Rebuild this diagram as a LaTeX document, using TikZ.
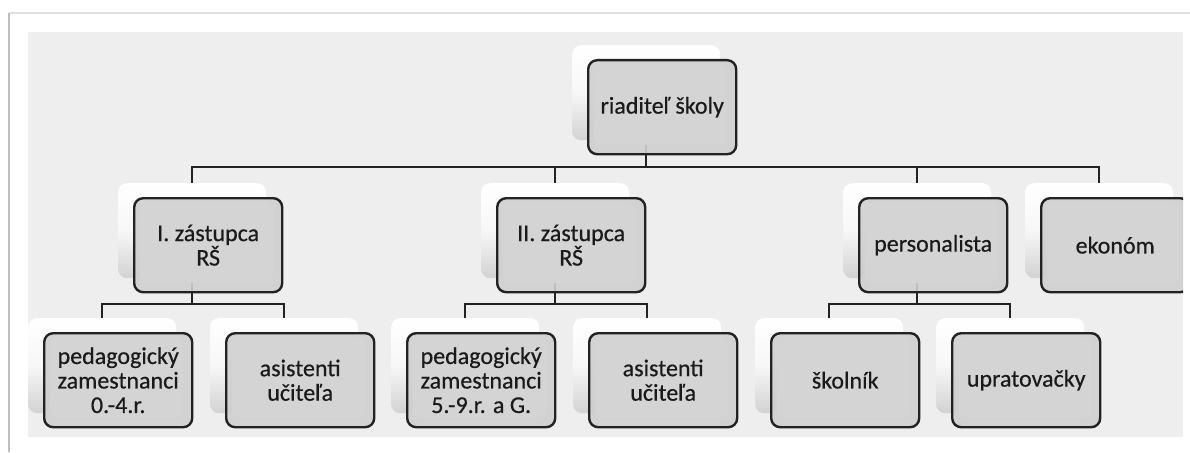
\documentclass[tikz,border=0pt]{standalone}
\usepackage{fontspec}
\setmainfont{Carlito}
\newfontfamily\boxfont[FakeBold=0.5]{Carlito}
\definecolor{panel}{HTML}{EEEEEE}
\definecolor{boxfill}{HTML}{CFCFCF}
\definecolor{hilite}{HTML}{D5D5D5}
\definecolor{boxline}{HTML}{222222}
\definecolor{txt}{HTML}{1A1A1A}
\definecolor{lightbot}{HTML}{D2D2D2}
\definecolor{lightmid}{HTML}{F7F7F7}
\definecolor{frameleft}{HTML}{BDBDBD}
\definecolor{frametop}{HTML}{E0E0E0}
\tikzset{
  lightbox/.style={minimum width=148pt, minimum height=95pt, inner sep=0pt,
    anchor=north west, rounded corners=9pt,
    top color=white, bottom color=lightbot, middle color=lightmid},
  darkbox/.style={minimum width=148pt, minimum height=94pt, inner sep=0pt,
    anchor=north west, rounded corners=9pt, draw=boxline, line width=2.4pt,
    fill=boxfill, fill opacity=0.9, text opacity=1, draw opacity=1,
    align=center, text=txt, font=\boxfont\fontsize{24pt}{24.5pt}\selectfont,
    path picture={\fill[hilite, rounded corners=7pt]
      ([shift={(6pt,-5pt)}]path picture bounding box.north west) rectangle
      ([shift={(-9pt,9pt)}]path picture bounding box.south east);}},
  conn/.style={draw=boxline, line width=2.4pt}
}
\begin{document}
\begin{tikzpicture}[x=1pt,y=-1pt]
\useasboundingbox (0,0) rectangle (1190,452);
\fill[white] (0,0) rectangle (1190,452);
% frame
\draw[frametop, line width=2pt] (9,13) -- (1190,13);
\draw[frameleft, line width=2.5pt] (9,452) -- (9,13);
% panel
\fill[panel] (28,32) rectangle (1183,437);
\begin{scope}
\clip (28,32) rectangle (1183,437);
% light boxes
\node[lightbox] (rootL) at (572,45) {};
\node[lightbox] (izL) at (118,183) {};
\node[lightbox] (iizL) at (481,183) {};
\node[lightbox] (persL) at (843,183) {};
\node[lightbox] (ekonL) at (1025,183) {};
\node[lightbox] (ped1L) at (28,318) {};
\node[lightbox] (asi1L) at (210,318) {};
\node[lightbox] (ped2L) at (391,318) {};
\node[lightbox] (asi2L) at (573,318) {};
\node[lightbox] (skolL) at (755,318) {};
\node[lightbox] (uprL) at (936,318) {};
% bus levels
\coordinate (bus1) at (0,167);
\coordinate (bus2) at (0,304);
% connectors
\draw[conn] (rootL.south) -- (rootL.south |- bus1) -| (izL.north);
\draw[conn] (rootL.south) -- (rootL.south |- bus1) -| (iizL.north);
\draw[conn] (rootL.south) -- (rootL.south |- bus1) -| (persL.north);
\draw[conn] (rootL.south) -- (rootL.south |- bus1) -| (ekonL.north);
\draw[conn] (izL.south) -- (izL.south |- bus2) -| (ped1L.north);
\draw[conn] (izL.south) -- (izL.south |- bus2) -| (asi1L.north);
\draw[conn] (iizL.south) -- (iizL.south |- bus2) -| (ped2L.north);
\draw[conn] (iizL.south) -- (iizL.south |- bus2) -| (asi2L.north);
\draw[conn] (persL.south) -- (persL.south |- bus2) -| (skolL.north);
\draw[conn] (persL.south) -- (persL.south |- bus2) -| (uprL.north);
% dark boxes with text
\node[darkbox] (root) at (587,59) {riaditeľ školy};
\node[darkbox] (iz) at (133,197) {I. zástupca\\RŠ};
\node[darkbox] (iiz) at (496,197) {II. zástupca\\RŠ};
\node[darkbox] (pers) at (858,197) {personalista};
\node[darkbox] (ekon) at (1040,197) {ekonóm};
\node[darkbox] (ped1) at (43,332) {pedagogický\\zamestnanci\\0.-4.r.};
\node[darkbox] (asi1) at (225,332) {asistenti\\učiteľa};
\node[darkbox] (ped2) at (406,332) {pedagogický\\zamestnanci\\5.-9.r. a G.};
\node[darkbox] (asi2) at (588,332) {asistenti\\učiteľa};
\node[darkbox] (skol) at (770,332) {školník};
\node[darkbox] (upr) at (951,332) {upratovačky};
\end{scope}
\end{tikzpicture}
\end{document}
